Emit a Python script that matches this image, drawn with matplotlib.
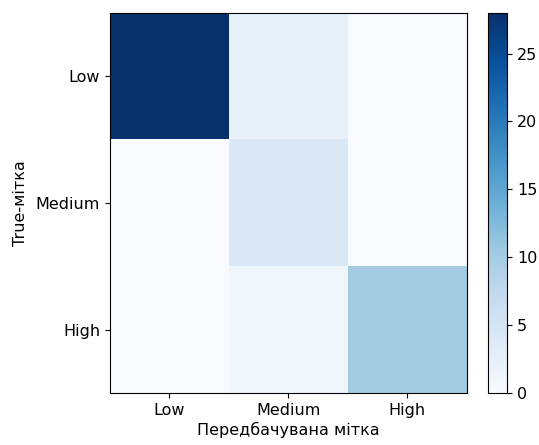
import numpy as np
import matplotlib
matplotlib.use("Agg")
import matplotlib.pyplot as plt

# confusion matrix values
labels = ["Low", "Medium", "High"]
row_low = [28, 2, 0]
row_medium = [0, 4, 0]
row_high = [0, 1, 10]

cm = np.array([row_low, row_medium, row_high])

plt.rcParams["font.size"] = 11.5

fig = plt.figure(figsize=(5.39, 4.45), dpi=100)
ax = fig.add_axes([0.204, 0.117, 0.662, 0.854])
cax = fig.add_axes([0.906, 0.117, 0.035, 0.854])

im = ax.imshow(cm, cmap="Blues", aspect="auto", interpolation="nearest")
fig.colorbar(im, cax=cax)

ax.set_xticks(range(len(labels)))
ax.set_xticklabels(labels)
ax.set_yticks(range(len(labels)))
ax.set_yticklabels(labels)
ax.set_xlabel("Передбачувана мітка", labelpad=3)
ax.set_ylabel("True-мітка", labelpad=6)

fig.savefig("out.png", dpi=100)
